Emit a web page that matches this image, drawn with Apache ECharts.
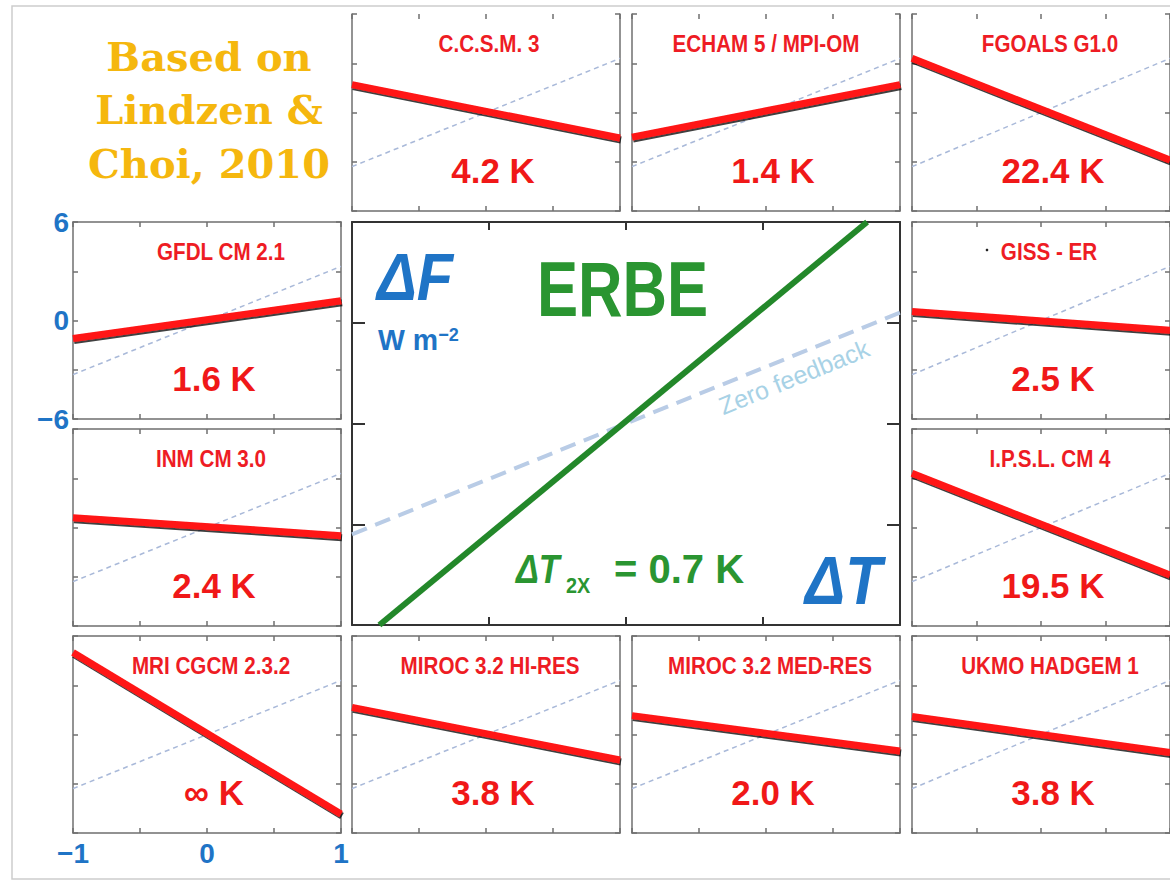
<!DOCTYPE html>
<html><head><meta charset="utf-8">
<script src="https://cdn.jsdelivr.net/npm/echarts@6/dist/echarts.min.js"></script>
<style>html,body{margin:0;padding:0;background:#fff}#c{width:1170px;height:881px}</style>
</head><body><div id="c"></div>
<script>
// ---------------- data ----------------
const models = ['C.C.S.M. 3','ECHAM 5 / MPI-OM','FGOALS G1.0','GFDL CM 2.1','GISS - ER','INM CM 3.0','I.P.S.L. CM 4','MRI CGCM 2.3.2','MIROC 3.2 HI-RES','MIROC 3.2 MED-RES','UKMO HADGEM 1'];
const sensitivityLabels = ['4.2 K','1.4 K','22.4 K','1.6 K','2.5 K','2.4 K','19.5 K','\u221E K','3.8 K','2.0 K','3.8 K'];
const deltaT = [-1, 1];
const fluxAtMinus1 = [1.7, -1.5, 3.3, -1.1, 0.55, 0.6, 3.3, 5.0, 1.65, 1.15, 1.1];
const fluxAtPlus1 = [-1.55, 1.7, -2.9, 1.2, -0.6, -0.5, -2.9, -4.85, -1.55, -1.0, -1.1];
const zeroFeedbackFlux = [-3.3, 3.3];
const erbeT = [-0.9, 0.88];
const erbeF = [-6, 6];
const xTickValues = [-1, 0, 1];
const xTickLabels = ['\u22121', '0', '1'];
const yTickValues = [-6, 0, 6];
const yTickLabels = ['\u22126', '0', '6'];

// ---------------- layout / style ----------------
const colX = [73, 352, 632, 912];
const rowY = [14, 222, 429, 636];
const PW = 268, PH = 197;
const cells = [[0,1],[0,2],[0,3],[1,0],[1,3],[2,0],[2,3],[3,0],[3,1],[3,2],[3,3]];
const titleDx = [3, 0, 4, 14, 3, 4, 4, 4, 4, 4, 4];
const SANS = "'Liberation Sans',Arial,sans-serif";
const RED = '#ee1c24', BLUE = '#1f74c6', GREEN = '#2a9531', GOLD = '#f5b70e';

const grid = [], xAxis = [], yAxis = [], series = [], graphic = [];

function labelFmt(vals, labs) {
  return v => { const k = vals.findIndex(a => Math.abs(a - v) < 1e-9); return k < 0 ? '' : labs[k]; };
}

function addPanel(left, top, width, height, o) {
  const gi = grid.length;
  grid.push({ left, top, width, height, containLabel: false });
  const mk = (position, isX, showLine, tickLen, labelOpt) => ({
    type: 'value', gridIndex: gi, position,
    min: isX ? -1 : -6, max: isX ? 1 : 6, interval: isX ? 0.5 : 3,
    axisLine: { show: showLine, onZero: false, lineStyle: { color: showLine ? o.color : 'rgba(0,0,0,0)', width: o.width } },
    axisTick: { show: true, inside: true, length: tickLen, lineStyle: { color: o.color, width: o.width } },
    axisLabel: labelOpt || { show: false },
    splitLine: { show: false }
  });
  xAxis.push(mk('bottom', true, true, o.xTick, o.xLabel));
  xAxis.push(mk('top', true, !o.noTop, o.xTick, null));
  yAxis.push(mk('left', false, true, o.yTick, o.yLabel));
  yAxis.push(mk('right', false, true, o.yTick, null));
  return { xi: xAxis.length - 2, yi: yAxis.length - 2 };
}

const blueLabel = {
  show: true, color: BLUE, fontSize: 28, fontWeight: 'bold', fontFamily: SANS,
  showMinLabel: true, showMaxLabel: true
};

function txt(x, y, text, font, fill, align, sx, extra) {
  return Object.assign({ type: 'text', x, y, z: 10, scaleX: sx || 1,
    style: { text, fill, font, align, verticalAlign: 'middle', textAlign: align, textVerticalAlign: 'middle' } }, extra || {});
}

models.forEach((name, i) => {
  const [r, c] = cells[i];
  const left = colX[c], top = rowY[r];
  const o = { color: '#6f6f6f', width: 1.5, xTick: 5, yTick: 5, noTop: r === 0 };
  if (r === 3 && c === 0) o.xLabel = Object.assign({}, blueLabel, { margin: 6, formatter: labelFmt(xTickValues, xTickLabels) });
  if (r === 1 && c === 0) o.yLabel = Object.assign({}, blueLabel, { margin: 4, formatter: labelFmt(yTickValues, yTickLabels) });
  const ax = addPanel(left, top, PW, PH, o);
  series.push({
    type: 'line', xAxisIndex: ax.xi, yAxisIndex: ax.yi, symbol: 'none', silent: true, z: 2,
    data: deltaT.map((t, k) => [t, zeroFeedbackFlux[k]]),
    lineStyle: { color: '#a9b9d9', width: 1.5, type: [5, 4] }
  });
  series.push({
    type: 'line', xAxisIndex: ax.xi, yAxisIndex: ax.yi, symbol: 'none', silent: true, z: 3,
    data: [[deltaT[0], fluxAtMinus1[i]], [deltaT[1], fluxAtPlus1[i]]],
    lineStyle: { color: '#ff1414', width: 7, shadowColor: 'rgba(0,0,0,0.75)', shadowBlur: 1, shadowOffsetX: 1, shadowOffsetY: 2 }
  });
  const cx = left + PW / 2;
  graphic.push(txt(cx + titleDx[i], top + 29.5, name, 'bold 24px ' + SANS, RED, 'center', 0.86));
  graphic.push(txt(cx + 7, top + 157, sensitivityLabels[i], 'bold 36px ' + SANS, '#f01818', 'center', 0.97));
});

// centre ERBE panel
const cax = addPanel(352, 222, 548, 403, { color: '#333', width: 2, xTick: 8, yTick: 13 });
series.push({
  type: 'line', xAxisIndex: cax.xi, yAxisIndex: cax.yi, symbol: 'none', silent: true, z: 2,
  data: deltaT.map((t, k) => [t, zeroFeedbackFlux[k]]),
  lineStyle: { color: '#b9cce6', width: 4, type: [16, 9] }
});
series.push({
  type: 'line', xAxisIndex: cax.xi, yAxisIndex: cax.yi, symbol: 'none', silent: true, z: 3,
  data: erbeT.map((t, k) => [t, erbeF[k]]),
  lineStyle: { color: '#23882a', width: 6 }
});

// frame and free text
graphic.push({ type: 'rect', z: -1, shape: { x: 12, y: 6, width: 1200, height: 873 },
  style: { fill: 'none', stroke: '#cdcdcd', lineWidth: 1.5 } });
graphic.push({ type: 'circle', shape: { cx: 987, cy: 250, r: 1.3 }, style: { fill: '#222' } });
['Based on', 'Lindzen &', 'Choi, 2010'].forEach((t, k) => {
  graphic.push(txt(209, 56 + k * 53.5, t, "bold 40px 'DejaVu Serif',serif", GOLD, 'center', 1));
});
graphic.push(txt(377, 277, '\u0394F', 'italic bold 66px ' + SANS, BLUE, 'left', 0.9));
graphic.push({ type: 'text', x: 378, y: 340, z: 10, scaleX: 0.95,
  style: { text: '{m|W m}{s|\u22122}', align: 'left', verticalAlign: 'middle', textAlign: 'left', textVerticalAlign: 'middle',
    rich: {
      m: { fill: BLUE, color: BLUE, fontSize: 30, fontWeight: 'bold', fontFamily: SANS, verticalAlign: 'top' },
      s: { fill: BLUE, color: BLUE, fontSize: 19, fontWeight: 'bold', fontFamily: SANS, verticalAlign: 'top' }
    } } });
graphic.push(txt(537, 289, 'ERBE', 'bold 78px ' + SANS, GREEN, 'left', 0.79));
graphic.push(txt(516, 569, '\u0394T', 'italic bold 40px ' + SANS, GREEN, 'left', 0.85));
graphic.push(txt(566, 585, '2X', 'bold 22px ' + SANS, GREEN, 'left', 0.9));
graphic.push(txt(614, 569, '= 0.7 K', 'bold 40px ' + SANS, GREEN, 'left', 1));
graphic.push(txt(805, 581, '\u0394T', 'italic bold 68px ' + SANS, BLUE, 'left', 0.88));
graphic.push(txt(794, 377, 'Zero feedback', '25px ' + SANS, '#a8d2e6', 'center', 1, { rotation: 22 * Math.PI / 180 }));

const chart = echarts.init(document.getElementById('c'), null, { renderer: 'svg' });
chart.setOption({ animation: false, backgroundColor: '#fff', grid, xAxis, yAxis, series, graphic });
</script></body></html>
